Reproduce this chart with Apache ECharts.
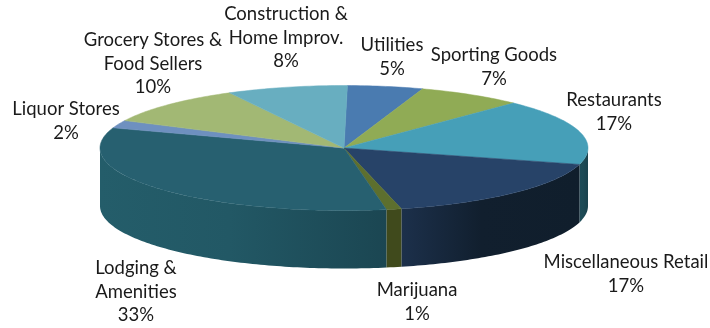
<!DOCTYPE html>
<html>
<head>
<meta charset="utf-8">
<script src="https://cdn.jsdelivr.net/npm/echarts@6/dist/echarts.min.js"></script>
<style>html,body{margin:0;padding:0;background:#fff}#chart{width:710px;height:328px}</style>
</head>
<body>
<div id="chart"></div>
<script>
// Spending by category, clockwise from twelve o'clock
const categories = ['Utilities', 'Sporting Goods', 'Restaurants', 'Miscellaneous Retail', 'Marijuana',
  'Lodging &\nAmenities', 'Liquor Stores', 'Grocery Stores &\nFood Sellers', 'Construction &\nHome Improv.'];
const shares = [5, 7, 17, 17, 1, 33, 2, 10, 8];

// Colours per slice: top face, then side wall at left, middle and right
const topColors = ['#4a7bb0', '#90ab55', '#469fb8', '#274368', '#5d6f2e', '#276070', '#6e90bf', '#a2b874', '#68aec0'];
const sideColors = [
  ['#3a6189', '#3a6189', '#3a6189'], ['#6f8541', '#6f8541', '#6f8541'], ['#1e4c58', '#1d4a55', '#1a424d'],
  ['#1c304b', '#111f2e', '#101e2c'], ['#404a1c', '#404a1c', '#404a1c'], ['#245d6a', '#225865', '#1b4652'],
  ['#4f6c93', '#4f6c93', '#4f6c93'], ['#7d8f58', '#7d8f58', '#7d8f58'], ['#4f8795', '#4f8795', '#4f8795']
];

// Disc geometry in pixels; rotation is the angle of the first slice's leading edge
const disc = { cx: 344, cy: 148, rx: 244, ry: 62.5, depth: 58, rotation: 0.8 };
// Centre of each label's first line
const labelAnchors = [[392, 45], [494, 55], [614, 100], [626, 262], [417, 290], [136, 268], [66, 109], [153, 40], [286, 14]];
const lineHeight = 23.7;

const total = shares.reduce((a, b) => a + b, 0);
const starts = [];
shares.reduce((acc, v, i) => { starts[i] = acc; return acc + v; }, 0);

function rimPoint(deg, dy) {
  const t = deg * Math.PI / 180;
  return [disc.cx + disc.rx * Math.sin(t), disc.cy - disc.ry * Math.cos(t) + dy];
}
function arc(from, to, dy) {
  const n = Math.max(2, Math.ceil(Math.abs(to - from)));
  const pts = [];
  for (let k = 0; k <= n; k++) pts.push(rimPoint(from + (to - from) * k / n, dy));
  return pts;
}

function renderSlice(params, api) {
  const i = params.dataIndex;
  const from = disc.rotation + api.value(1) / total * 360;
  const to = from + api.value(0) / total * 360;
  const children = [];

  // Only the part of the wall facing the viewer is visible
  const a = Math.max(from, 90), b = Math.min(to, 270);
  if (b > a) {
    const pts = arc(a, b, 0).concat(arc(b, a, disc.depth));
    const fill = new echarts.graphic.LinearGradient(0, 0, 1, 0, [
      { offset: 0, color: sideColors[i][0] },
      { offset: 0.45, color: sideColors[i][1] },
      { offset: 1, color: sideColors[i][2] }
    ]);
    children.push({ type: 'polygon', shape: { points: pts }, style: { fill: fill } });
  }

  children.push({
    type: 'polygon',
    shape: { points: [[disc.cx, disc.cy]].concat(arc(from, to, 0)) },
    style: { fill: topColors[i], stroke: topColors[i], lineWidth: 0.5 }
  });

  const lines = (categories[i] + '\n' + shares[i] + '%').split('\n');
  lines.forEach(function (line, k) {
    children.push({
      type: 'text',
      z2: 10,
      style: {
        text: line,
        x: labelAnchors[i][0],
        y: labelAnchors[i][1] + k * lineHeight,
        align: 'center',
        verticalAlign: 'middle',
        fill: '#1a1a1a',
        font: '18.5px Lato, "Open Sans", sans-serif'
      }
    });
  });
  return { type: 'group', children: children };
}

const chart = echarts.init(document.getElementById('chart'), null, { renderer: 'canvas' });
chart.setOption({
  animation: false,
  backgroundColor: '#ffffff',
  series: [{
    type: 'custom',
    coordinateSystem: 'none',
    renderItem: renderSlice,
    data: shares.map((v, i) => [v, starts[i]])
  }]
});
</script>
</body>
</html>
